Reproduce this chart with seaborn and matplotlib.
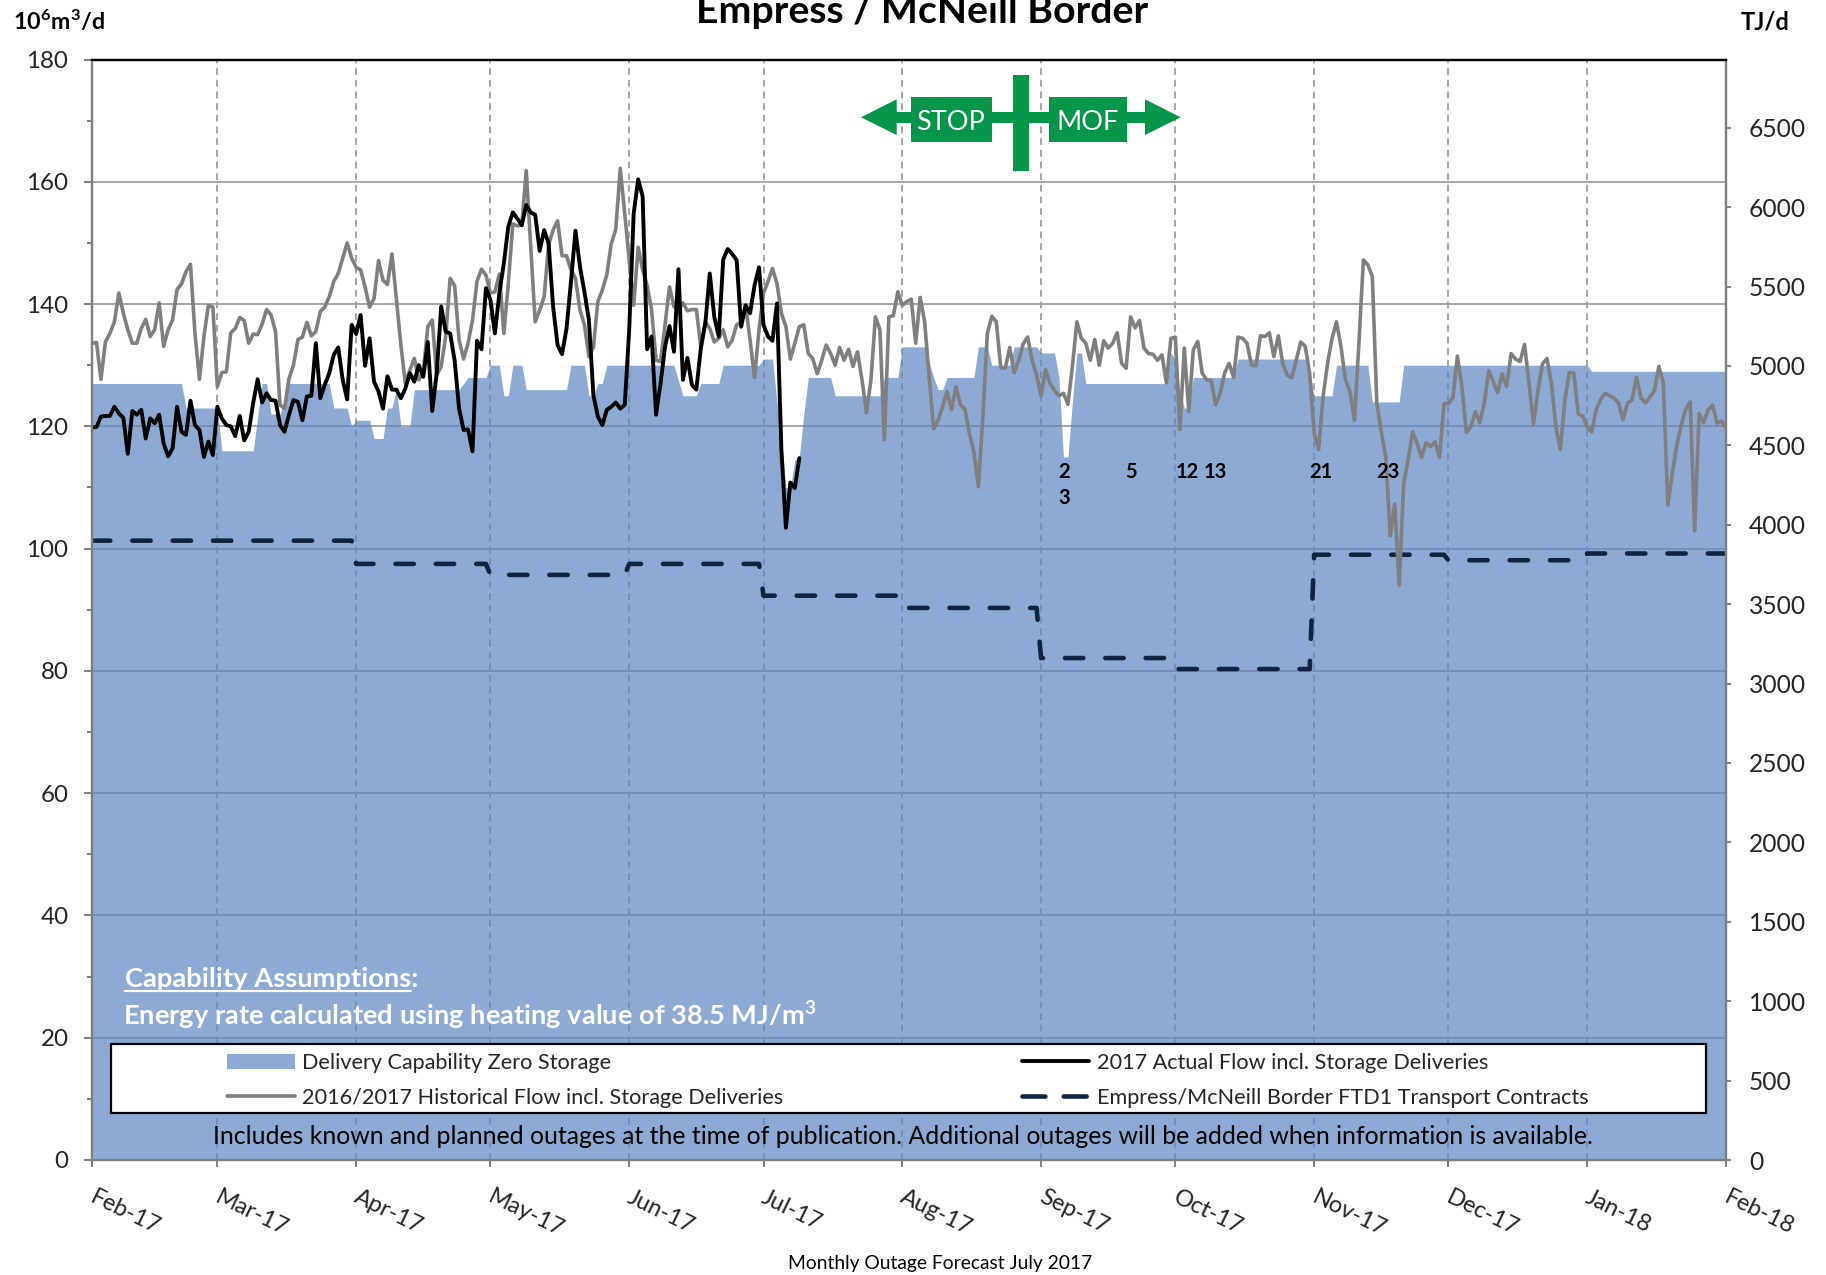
import pandas as pd
import matplotlib
matplotlib.use("Agg")
import matplotlib.pyplot as plt
from matplotlib.lines import Line2D
from matplotlib.patches import Patch, Polygon, Rectangle
from matplotlib.ticker import MultipleLocator
from matplotlib.transforms import ScaledTranslation
import seaborn as sns

month_labels = ['Feb-17', 'Mar-17', 'Apr-17', 'May-17', 'Jun-17', 'Jul-17', 'Aug-17',
                'Sep-17', 'Oct-17', 'Nov-17', 'Dec-17', 'Jan-18', 'Feb-18']

# daily values, day 0 is 1 Feb 2017
historical = [
    133.6, 133.7, 127.7, 133.8, 135.2, 137.1, 141.8, 138.5, 135.8, 133.6, 133.6, 136, 137.5, 134.7, 135.8, 140.2,
    133.1, 135.8, 137.4, 142.4, 143.3, 145.3, 146.5, 135.2, 127.7, 134.7, 139.8, 139.5, 126.5, 128.8, 128.9, 135.3,
    136, 137.8, 137.3, 133.6, 135.1, 135, 136.7, 139.1, 138.2, 135.5, 123.5, 122.9, 127.8, 130, 134.2, 134.6,
    137, 134.8, 135.5, 138.8, 139.5, 141.2, 143.7, 145, 147.5, 150, 147.5, 146, 145.6, 142.8, 139.5, 140.9,
    147.1, 143.9, 143.2, 148.2, 140.7, 133.3, 127, 129.2, 131.1, 127.6, 128.7, 136.3, 137.4, 128.4, 129.8, 134.7,
    144.2, 143, 134.1, 131, 133.6, 137.4, 143.7,
    145.7, 144.7, 141.8, 142, 144.9, 135.2, 143.4, 153.1, 152.8, 152.9, 161.8, 149.4, 137.1, 139, 141.2, 149.7,
    152.1, 153.6, 147.9, 147.9, 145.6, 144.2, 139, 136.6, 131.4, 133, 140.4, 142.3, 144.8, 149.9, 152.2, 162.2,
    154.8, 147.2, 139.8, 149.3, 145.6, 143.1, 139, 130.8, 130.6, 136.6, 142.8, 139.6, 139, 140.2, 138.9, 139.1,
    139.1, 133, 137.1, 136, 133.8, 134.4, 135.8, 133, 134.1, 136.6, 137.1, 139.8, 134.1, 128, 135.8, 141.8,
    143.7, 145.8, 143.4, 138.5, 136.3, 131, 133.6, 136.3, 136.6, 131.9, 131.1, 128.6, 130.8, 133.3, 131.9, 130,
    132.9, 130.8, 132.6, 129.8, 132.2, 127.6, 122.2, 127.6, 137.9,
    135.8, 117.8, 137.9, 138.1, 142, 139.8, 140.4, 140.8, 133.6, 141.1, 137.1, 128.1, 119.6, 121, 123.2, 125.7,
    122.7, 126.5, 123.5, 122.8, 118.8, 115.8, 110.1, 121.6, 135.2, 138, 137.1, 129.6, 129.5, 132.9, 128.8, 130.8,
    133.5, 134.6, 130.8, 128.4, 125, 129.3, 127, 125.9, 125, 125.4, 123.6, 129.8, 137.1, 134.4, 133.6, 130.8,
    134.2, 130, 134, 132.8, 133.6, 135.3, 130.3, 129.5, 137.9, 136.1, 137.3, 132.8, 131.9, 131.8, 130.8, 131.7,
    127.1, 134.4, 134.6, 119.5, 132.8, 122.4, 132.5, 133.9, 128.7, 127.6, 127.5, 123.5, 125.4, 128.7, 130.3, 128,
    134.6, 134.4, 133.6, 130, 129.9, 134.8, 134.7, 135.3, 131.4, 134.8, 130.2, 128.4,
    127.9, 130.8, 133.8, 133.1, 128.7, 118.9, 116.2, 124.9, 130.3, 134.4, 137.1, 133, 127.6, 125.7, 121, 133.6,
    147.2, 146.4, 144.5, 123.8, 119.1, 115, 102.1, 107.3, 94, 110.7, 114.5, 119.1, 117.2, 114.9, 117.3, 116.7,
    117.5, 114.9, 123.7, 123.7, 124.7, 131.5, 126.5, 119, 119.9, 122.4, 120.6, 123.8, 129.1, 127.3, 125.5, 128.6,
    126.5, 131.9, 131, 130.6, 133.4, 127, 120.4, 125.9, 130.2, 131.1, 127, 119.9, 116.2, 124.3, 128.8, 128.7,
    122, 121.7, 119.9, 119.1, 122.7, 124.4, 125.4, 125, 124.6, 123.8, 121.1, 123.8, 124.3, 128, 124.7, 123.8,
    124.8, 125.8, 129.8, 127.1, 107.1, 112.3, 116.9, 120.2, 122.8, 124, 102.9, 122.1, 120.6, 122.7, 123.5, 120.5,
    120.9, 119.7,
]

actual = [
    119.8, 119.9, 121.6, 121.7, 121.7, 123.2, 122.1, 121.4, 115.5, 122.5, 121.9, 122.7, 118, 121.3, 120.5, 121.9,
    117.2, 115.1, 116.4, 123.2, 119.1, 118.6, 124.2, 120.2, 119.4, 115, 117.5, 115.3, 123.2, 121.3, 120.2, 120,
    118.4, 121.7, 117.7, 119.1, 123.8, 127.7, 123.9, 125.4, 124.3, 124.2, 120.2, 119.1, 121.9, 124.3, 124, 121,
    124.9, 125, 133.6, 124.6, 126.8, 128.7, 131.7, 132.9, 127.6, 124.4, 136.6, 135.1, 138.2, 129.9, 134.4, 127.3,
    125.7, 122.9, 128.2, 126, 126, 124.6, 126.2, 128.7, 127.3, 130, 128.1, 133.8, 122.5, 128.7, 139.6, 135.5,
    135.2, 130.8, 122.9, 119.4, 119.5, 115.9, 134, 132.6, 142.6, 140.7, 135.2, 141.8, 146.7, 152.7, 155, 154,
    152.9, 156.2, 155, 154.6, 148.7, 152.1, 149.9, 139.6, 133.3, 131.8, 136, 143.7, 152, 146.1, 142, 137.4,
    125.1, 121.6, 120.2, 122.7, 123.2, 123.9, 122.9, 123.5, 135.8, 154.8, 160.4, 157.6, 132.6, 134.7, 121.9, 127,
    133, 136.4, 132.2, 145.7, 127.6, 131.2, 126.8, 126, 132.8, 136.8, 145, 137.9, 134.7, 147.3, 149, 148.2,
    147.2, 136.3, 139.8, 138.5, 143.1, 146, 136.6, 134.7, 134, 140.1, 116.1, 103.4, 110.8, 109.9, 114.8,
]

# capability only changes at some days, so kept as corner points
capability_days = [0, 20, 21, 28, 29, 36, 38, 39, 40, 42, 44, 53, 54, 57, 58, 59, 62, 63, 65, 66, 67, 68, 69, 71, 72,
                   82, 84, 88, 89, 91, 92, 93, 94, 96, 97, 106, 107, 110, 111, 112, 113, 114, 115, 130, 132, 135,
                   136, 140, 141, 149, 150, 152, 153, 154, 155, 156, 157, 158, 159, 160, 165, 166, 176, 177, 180,
                   181, 186, 187, 188, 189, 190, 191, 197, 198, 200, 201, 205, 206, 211, 212, 215, 216, 217, 218,
                   219, 220, 221, 222, 240, 241, 242, 243, 244, 245, 246, 255, 256, 271, 272, 273, 277, 278, 285,
                   286, 292, 293, 334, 335, 365]
capability_vals = [127, 127, 123, 123, 116, 116, 127, 127, 122, 122, 127, 127, 123, 123, 120, 121, 121, 118, 118, 123,
                   123, 126, 120, 120, 126, 126, 128, 128, 130, 130, 125, 125, 130, 130, 126, 126, 130, 130, 125, 125,
                   127, 127, 130, 130, 125, 125, 127, 127, 130, 130, 131, 131, 124, 118, 110, 110, 114.5, 115, 122, 128,
                   128, 125, 125, 128, 128, 133, 133, 130.5, 128, 126, 126, 128, 128, 133, 133, 130, 130, 133, 133,
                   132, 132, 128, 115, 115, 124, 132, 132, 127, 127, 132, 131, 126, 123, 123, 128, 128, 131, 131, 129,
                   125, 125, 130, 130, 124, 124, 130, 130, 129, 129]

contract_days = [0, 58, 59, 88, 89, 119, 120, 149, 150, 180, 181, 211, 212, 241, 242, 272, 273, 302, 303, 333, 334, 365]
contract_vals = [101.3, 101.3, 97.5, 97.5, 95.7, 95.7, 97.5, 97.5, 92.3, 92.3, 90.3, 90.3, 82.1, 82.1, 80.3, 80.3,
                 99, 99, 98.1, 98.1, 99.2, 99.2]

outage_days = [217.2, 217.2, 232, 244.6, 251, 274.5, 289.4]
outage_vals = [112.6, 108.2, 112.6, 112.6, 112.6, 112.6, 112.6]
outage_text = ['2', '3', '5', '12', '13', '21', '23']

BLUE = '#5C87C2'
GREEN = '#05964A'
NAVY = '#0F243E'
GREY = '#7F7F7F'

sns.set_theme(style='ticks')
plt.rcParams['font.family'] = ['Lato', 'DejaVu Sans']
plt.rcParams['mathtext.fontset'] = 'custom'
plt.rcParams['mathtext.rm'] = 'Lato'
plt.rcParams['mathtext.bf'] = 'Lato:bold'

W, H = 1826, 1275
fig = plt.figure(figsize=(W / 100, H / 100), dpi=100)
ax = fig.add_axes([92 / W, 1 - 1160 / H, 1634 / W, 1100.5 / H])

start = pd.Timestamp('2017-02-01')
days = pd.date_range(start, periods=len(historical))
to_dates = lambda d: start + pd.to_timedelta(d, unit='D')
month_ticks = pd.date_range('2017-02-01', '2018-02-01', freq='MS')

# grid goes under the half transparent area so it gets darker inside it
ax.set_axisbelow(True)
ax.grid(axis='y', color='#A6A6A6', lw=1.4)
ax.vlines(month_ticks[1:-1], 0, 180, color='#A6A6A6', lw=1.4, linestyles=(0, (3.5, 2.5)), zorder=0.6)

ax.fill_between(to_dates(pd.Index(capability_days)), capability_vals, 0, color=BLUE, alpha=0.7, lw=0, zorder=1)

sns.lineplot(x=to_dates(pd.Index(contract_days)), y=contract_vals, ax=ax, color=NAVY, lw=3.3, estimator=None,
             dashes=False, linestyle=(0, (4, 4.8)), dash_capstyle='round', zorder=2)
sns.lineplot(x=days, y=historical, ax=ax, color=GREY, lw=2.6, estimator=None, zorder=3)
sns.lineplot(x=days[:len(actual)], y=actual, ax=ax, color='black', lw=2.8, estimator=None, zorder=3.2)

for d, v, t in zip(outage_days, outage_vals, outage_text):
    ax.text(to_dates(d), v, t, ha='center', va='center', fontsize=14.5, fontweight='bold', color='black')

ax.set_xlim(month_ticks[0], month_ticks[-1])
ax.set_ylim(0, 180)
ax.set_xlabel('')
ax.set_ylabel('')
ax.yaxis.set_major_locator(MultipleLocator(20))
ax.yaxis.set_minor_locator(MultipleLocator(10))
ax.set_xticks(month_ticks)
ax.set_xticklabels(month_labels, rotation=-26, ha='left', va='top', rotation_mode='anchor', fontsize=16.9)
ax.tick_params(axis='x', length=5, width=1.4, color=GREY, pad=14)
ax.tick_params(axis='y', which='major', length=5.5, width=1.4, color=GREY, pad=11.5, labelsize=17.4)
ax.tick_params(axis='y', which='minor', length=3.5, width=1.4, color=GREY)

# labels start a bit right of the tick, tick_params would reset this so it comes after
nudge = ScaledTranslation(4 / 100, 0, fig.dpi_scale_trans)
for lab in ax.get_xticklabels():
    lab.set_transform(lab.get_transform() + nudge)

# right hand axis, 38.5 TJ per 10^6 m3
ax2 = ax.twinx()
ax2.set_ylim(0, 180 * 38.5)
ax2.yaxis.set_major_locator(MultipleLocator(500))
ax2.tick_params(axis='y', length=3.5, width=1.4, color=GREY, pad=13, labelsize=17.7)
ax2.grid(False)

for a in (ax, ax2):
    for side in ('left', 'right', 'bottom'):
        a.spines[side].set_color(GREY)
        a.spines[side].set_linewidth(1.6)
    a.spines['top'].set_color('black')
    a.spines['top'].set_linewidth(1.6)


def fx(x):
    return x / W


def fy(y):
    return 1 - y / H


def ftext(x, y, s, **kw):
    return fig.text(fx(x), fy(y), s, **kw)


def fpoly(points, color):
    fig.add_artist(Polygon([(fx(x), fy(y)) for x, y in points], closed=True, facecolor=color, edgecolor='none',
                           transform=fig.transFigure, zorder=6))


# STOP / MOF sign
fpoly([(861, 117.3), (896.7, 99.3), (896.7, 135)], GREEN)
fpoly([(1180.7, 117.3), (1145, 99.3), (1145, 135)], GREEN)
fpoly([(896, 111.7), (1146, 111.7), (1146, 122.7), (896, 122.7)], GREEN)
fpoly([(911, 97.3), (991.7, 97.3), (991.7, 142.3), (911, 142.3)], GREEN)
fpoly([(1049.3, 97.3), (1126.7, 97.3), (1126.7, 142.3), (1049.3, 142.3)], GREEN)
fpoly([(1012.7, 75), (1028.7, 75), (1028.7, 171), (1012.7, 171)], GREEN)
ftext(951, 122, 'STOP', ha='center', va='center', color='white', fontsize=19.5, zorder=7)
ftext(1088, 122, 'MOF', ha='center', va='center', color='white', fontsize=19.5, zorder=7)

ftext(922, 23, 'Empress / McNeill Border', ha='center', va='baseline', fontsize=28.3, fontweight='bold', color='black')
ftext(13, 30, r'$\mathbf{10^{6}m^{3}/d}$', ha='left', va='baseline', fontsize=16.8, color='black')
ftext(1741, 30, 'TJ/d', ha='left', va='baseline', fontsize=17, fontweight='bold', color='black')
ftext(940, 1263, 'Monthly Outage Forecast July 2017', ha='center', va='center', fontsize=13.9, color='black')

ftext(124.6, 987, 'Capability Assumptions:', ha='left', va='baseline', fontsize=19.7, fontweight='bold', color='white',
      zorder=7)
fig.add_artist(Line2D([fx(124.6), fx(411)], [fy(990.7), fy(990.7)], color='white', lw=1.6, zorder=7))
ftext(123, 1025, r'Energy rate calculated using heating value of 38.5 MJ/m$\mathbf{^{3}}$', ha='left',
      va='baseline', fontsize=19.6, fontweight='bold', color='white', zorder=7)
ftext(902.5, 1137, 'Includes known and planned outages at the time of publication. Additional outages will be added '
      'when information is available.', ha='center', va='center', fontsize=17.9, color='black', zorder=7)

# legend frame is its own box because the handles sit far from the left edge
fig.add_artist(Rectangle((fx(111), fy(1112.7)), (1706 - 111) / W, (1112.7 - 1044.3) / H, facecolor='white',
                         edgecolor='black', lw=1.6, transform=fig.transFigure, zorder=6))
handles = [Patch(facecolor='#8DABD4', edgecolor='none'),
           Line2D([], [], color=GREY, lw=2.6),
           Line2D([], [], color='black', lw=2.8),
           Line2D([], [], color=NAVY, lw=3.3, linestyle=(0, (5, 4)), dash_capstyle='round')]
labels = ['Delivery Capability Zero Storage', '2016/2017 Historical Flow incl. Storage Deliveries',
          '2017 Actual Flow incl. Storage Deliveries', 'Empress/McNeill Border FTD1 Transport Contracts']
leg = fig.legend(handles, labels, ncol=2, frameon=False, fontsize=15.6, loc='upper left',
                 bbox_to_anchor=(fx(227), fy(1053)), borderaxespad=0, borderpad=0, handlelength=3.13,
                 handleheight=0.7, handletextpad=0.33, labelspacing=0.68, columnspacing=11.0)
leg.set_zorder(8)

fig.savefig('out.png', dpi=100)
